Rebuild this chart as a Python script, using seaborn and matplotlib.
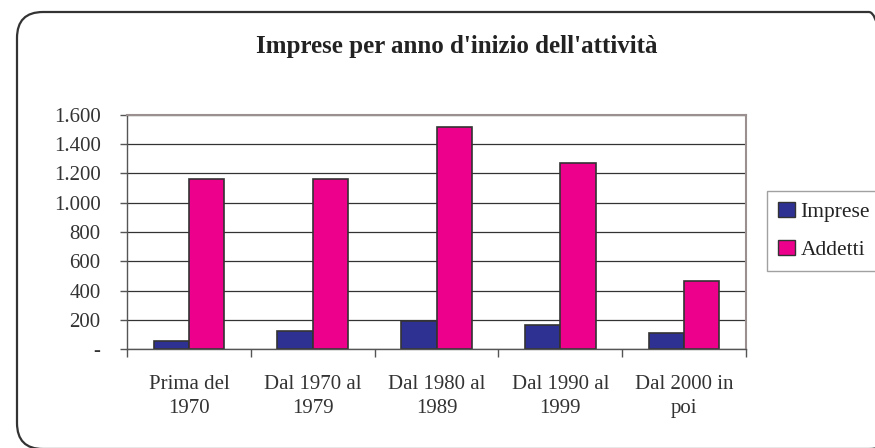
import matplotlib
matplotlib.use("Agg")
import matplotlib.pyplot as plt
import matplotlib.transforms as mtransforms
from matplotlib.patches import FancyBboxPatch, Patch
import seaborn as sns
import pandas as pd

categories = ["Prima del\n1970", "Dal 1970 al\n1979", "Dal 1980 al\n1989", "Dal 1990 al\n1999", "Dal 2000 in\npoi"]
imprese = [57, 124, 192, 165, 110]
addetti = [1160, 1160, 1518, 1275, 462]
series_names = ["Imprese", "Addetti"]
colors = ["#2E3192", "#EC008C"]
yticks = [0, 200, 400, 600, 800, 1000, 1200, 1400, 1600]
title = "Imprese per anno d'inizio dell'attività"

df = pd.DataFrame({
    "cat": categories * 2,
    "val": imprese + addetti,
    "serie": [series_names[0]] * len(categories) + [series_names[1]] * len(categories),
})

sns.set_style("white")
plt.rcParams["font.family"] = ["Liberation Serif", "DejaVu Serif"]

W, H = 875, 448
fig = plt.figure(figsize=(W / 100, H / 100), dpi=100)
ax = fig.add_axes([127 / W, 1 - 349 / H, (746 - 127) / W, (349 - 115) / H])

sns.barplot(data=df, x="cat", y="val", hue="serie", order=categories,
            hue_order=series_names, palette=colors, saturation=1,
            width=0.57, edgecolor="#333333", linewidth=1.2, ax=ax, legend=False)

ax.set_ylim(0, 1600)
ax.set_xlim(-0.5, len(categories) - 0.5)
ax.set_yticks(yticks)
ax.set_yticklabels(["-" if v == 0 else f"{v:,}".replace(",", ".") for v in yticks])
ax.set_xlabel("")
ax.set_ylabel("")

ax.yaxis.grid(True, color="#333333", linewidth=0.9)
ax.set_axisbelow(True)
ax.xaxis.grid(False)

for s in ["left", "bottom"]:
    ax.spines[s].set_color("#555555")
    ax.spines[s].set_linewidth(1.0)
for s in ["top", "right"]:
    ax.spines[s].set_color("#9a9090")
    ax.spines[s].set_linewidth(1.5)

ax.tick_params(axis="y", which="major", direction="out", length=5, width=1,
               color="#555555", pad=14, labelsize=15, labelcolor="#333333", left=True)
ax.tick_params(axis="x", which="major", length=0, pad=19, labelsize=15, labelcolor="#333333")
ax.set_xticks([i - 0.5 for i in range(len(categories) + 1)], minor=True)
ax.tick_params(axis="x", which="minor", direction="out", length=6, width=1, color="#555555", bottom=True)
for lbl in ax.get_xticklabels():
    lbl.set_linespacing(1.3)

fig.text(457 / W, 1 - 47 / H, title, ha="center", va="center",
         fontsize=18, fontweight="bold", color="#222222")

handles = [Patch(facecolor=c, edgecolor="#333333", linewidth=1.0) for c in colors]
leg = fig.legend(handles, series_names, loc="upper left",
                 bbox_to_anchor=(767 / W, 1 - 191 / H), frameon=True,
                 fontsize=15.5, handlelength=0.8, handleheight=0.7,
                 handletextpad=0.25, labelspacing=0.85, borderpad=0.5,
                 borderaxespad=0, fancybox=False)
leg.get_frame().set_edgecolor("#8a8a8a")
leg.get_frame().set_linewidth(1.0)
for t in leg.get_texts():
    t.set_color("#222222")

frame = FancyBboxPatch((17, -1), 878, 437, boxstyle="round,pad=0,rounding_size=26",
                       transform=mtransforms.IdentityTransform(), fill=False,
                       edgecolor="#333333", linewidth=1.6, zorder=10)
fig.add_artist(frame)

fig.savefig("out.png", dpi=100)
